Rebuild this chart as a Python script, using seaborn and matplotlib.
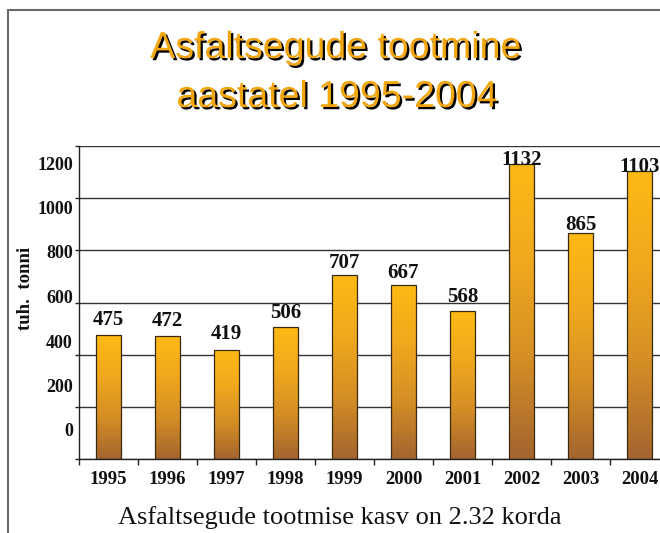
import numpy as np
import pandas as pd
import matplotlib
matplotlib.use("Agg")
import matplotlib.pyplot as plt
import seaborn as sns
import matplotlib.patheffects as pe
import matplotlib.transforms as mtransforms
from matplotlib.colors import LinearSegmentedColormap
from matplotlib.lines import Line2D

# ---- data ----
years = ["1995", "1996", "1997", "1998", "1999", "2000", "2001", "2002", "2003", "2004"]
values = [475, 472, 419, 506, 707, 667, 568, 1132, 865, 1103]
ytick_values = [0, 200, 400, 600, 800, 1000, 1200]
ytick_labels = [str(v) for v in ytick_values]
title_lines = ["Asfaltsegude tootmine", "aastatel 1995-2004"]
ylabel = "tuh.  tonni"
caption = "Asfaltsegude tootmise kasv on 2.32 korda"

sns.set_theme(style="white")
plt.rcParams["font.family"] = ["Liberation Serif", "DejaVu Serif"]

W, H = 660, 533
fig = plt.figure(figsize=(W / 100, H / 100), dpi=100)
fig.patch.set_facecolor("white")
ax = fig.add_axes([79 / W, (H - 459) / H, 590 / W, 313 / H])

df = pd.DataFrame({"year": years, "value": values})
sns.barplot(data=df, x="year", y="value", ax=ax, width=0.41, color="#F5A623",
            edgecolor="#3a2a10", linewidth=0.9, saturation=1)

ax.set_xlim(-0.5, len(years) - 0.5)
ax.set_ylim(0, 1200)

# gradient fill for bars
cmap = LinearSegmentedColormap.from_list("bar", ["#A4642F", "#D48E25", "#F0A81E", "#FDBA15"])
grad = np.linspace(0, 1, 256).reshape(-1, 1)
for p in list(ax.patches):
    x0, y0, w, h = p.get_x(), p.get_y(), p.get_width(), p.get_height()
    im = ax.imshow(grad, extent=[x0, x0 + w, y0, y0 + h], origin="lower",
                   aspect="auto", cmap=cmap, zorder=2.5, interpolation="bilinear")
    im.set_clip_path(p)
    p.set_facecolor("none")
    p.set_zorder(3)
ax.set_xlim(-0.5, len(years) - 0.5)
ax.set_ylim(0, 1200)

# grid & spines
ax.set_yticks(ytick_values)
ax.yaxis.grid(True, color="#333333", linewidth=1)
ax.xaxis.grid(False)
ax.set_axisbelow(True)
for s in ["top", "right"]:
    ax.spines[s].set_visible(False)
for s in ["left", "bottom"]:
    ax.spines[s].set_color("#222222")
    ax.spines[s].set_linewidth(1)

ax.tick_params(axis="y", which="major", left=True, length=3, width=1,
               color="#222222", labelleft=False)
ax.set_xticks(np.arange(-0.5, len(years), 1), minor=True)
ax.tick_params(axis="x", which="minor", bottom=True, length=4, width=1, color="#222222")
ax.tick_params(axis="x", which="major", bottom=False, length=0, pad=9)
ax.set_xticklabels(years, fontsize=13.5, fontweight="bold", color="#111111")
ax.set_xlabel("")
ax.set_ylabel("")

# value labels (placed on the slightly compressed label layer, as in the reference)
blend = mtransforms.blended_transform_factory(ax.transData, fig.transFigure)
for i, v in enumerate(values):
    ypix = 441 - 0.244 * v
    ax.text(i, 1 - ypix / H, str(v), transform=blend, ha="center", va="baseline",
            fontsize=15, fontweight="bold", color="#111111", zorder=5)

# y tick labels (offset as in reference)
for i, lab in enumerate(ytick_labels):
    ypix = 432 - i * 44.5
    fig.text(73 / W, 1 - ypix / H, lab, ha="right", va="center",
             fontsize=13, fontweight="bold", color="#111111")

fig.text(25 / W, 1 - 288 / H, ylabel, rotation=90, ha="center", va="center",
         fontsize=13.5, fontweight="bold", color="#111111")

# title with shadow
shadow = [pe.withSimplePatchShadow(offset=(1.6, -1.6), shadow_rgbFace="black", alpha=1)]
fig.text(336 / W, 1 - 48 / H, title_lines[0], ha="center", va="center",
         fontsize=27, family="Liberation Sans", color="#F2A50C", path_effects=shadow)
fig.text(337 / W, 1 - 97 / H, title_lines[1], ha="center", va="center",
         fontsize=27, family="Liberation Sans", color="#F2A50C", path_effects=shadow)

# caption
fig.text(340 / W, 1 - 518 / H, caption, ha="center", va="center",
         fontsize=19, color="#111111")

# outer frame (cut off at right/bottom)
fig.add_artist(Line2D([8 / W, 1], [1 - 10 / H, 1 - 10 / H], transform=fig.transFigure,
                      color="#6a6a6a", linewidth=1.5))
fig.add_artist(Line2D([8 / W, 8 / W], [0, 1 - 10 / H], transform=fig.transFigure,
                      color="#6a6a6a", linewidth=1.5))

fig.savefig("out.png", dpi=100)
